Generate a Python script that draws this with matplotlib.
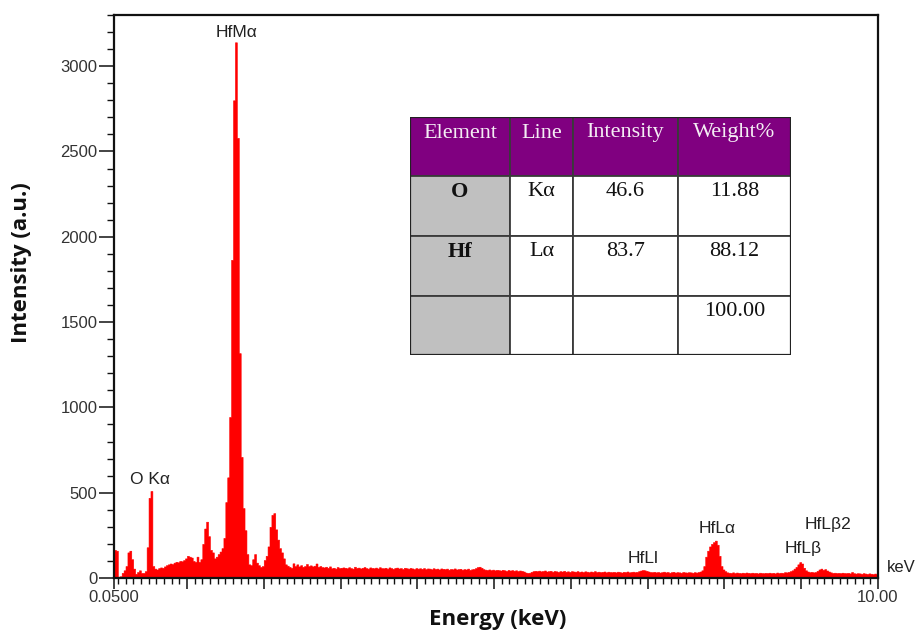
import numpy as np
import matplotlib
matplotlib.use('Agg')
import matplotlib.pyplot as plt
from matplotlib.patches import Rectangle
from matplotlib.ticker import FixedLocator, MultipleLocator

# EDS spectrum, counts per 0.025 keV channel starting at 0.05 keV
e_start = 0.05
e_step = 0.025
counts = [
    165, 160, 8, 10, 30, 45, 70, 150, 160, 110, 55, 25, 35, 45, 30, 30, 40, 180, 470, 510,
    70, 55, 50, 58, 62, 60, 68, 75, 80, 85, 82, 90, 95, 92, 100, 98, 105, 115, 130, 125,
    120, 100, 95, 125, 95, 110, 200, 290, 330, 245, 165, 150, 115, 125, 140, 155, 175, 235, 445, 590,
    944, 1865, 2800, 3140, 2580, 1318, 710, 410, 280, 140, 80, 75, 110, 140, 90, 75, 65, 70, 105, 130,
    185, 300, 370, 380, 285, 225, 175, 150, 115, 80, 72, 65, 60, 86, 70, 80, 68, 75, 66, 70,
    82, 70, 74, 68, 72, 85, 66, 70, 64, 62, 66, 60, 68, 57, 60, 55, 64, 58, 60, 62,
    60, 57, 63, 58, 55, 66, 59, 61, 56, 60, 64, 58, 55, 62, 59, 57, 61, 56, 63, 58,
    57, 60, 55, 62, 58, 54, 59, 61, 56, 58, 53, 60, 57, 55, 59, 56, 52, 58, 55, 57,
    54, 58, 52, 56, 55, 51, 57, 53, 55, 50, 56, 54, 52, 55, 49, 53, 51, 56, 50, 52,
    54, 49, 52, 50, 55, 48, 51, 53, 58, 64, 66, 60, 52, 49, 47, 50, 46, 49, 45, 48,
    46, 44, 48, 45, 42, 47, 44, 46, 43, 45, 41, 44, 42, 38, 32, 30, 31, 36, 40, 42,
    40, 43, 39, 41, 44, 38, 40, 42, 37, 41, 39, 36, 40, 38, 42, 37, 39, 36, 40, 38,
    37, 40, 36, 38, 35, 39, 37, 34, 38, 36, 40, 35, 37, 34, 36, 38, 33, 37, 35, 34,
    36, 33, 37, 35, 32, 36, 34, 38, 33, 35, 37, 34, 36, 40, 44, 47, 45, 42, 38, 35,
    34, 36, 33, 35, 32, 34, 37, 33, 35, 31, 34, 36, 32, 34, 33, 31, 35, 33, 32, 34,
    33, 31, 34, 32, 35, 38, 45, 70, 125, 160, 185, 200, 210, 219, 195, 130, 70, 50, 40, 33,
    31, 30, 33, 29, 32, 30, 28, 31, 29, 32, 30, 28, 31, 29, 30, 27, 31, 29, 28, 30,
    29, 31, 28, 30, 27, 32, 29, 31, 30, 34, 33, 36, 40, 45, 55, 65, 80, 93, 85, 60,
    45, 38, 34, 36, 33, 35, 42, 50, 55, 48, 52, 44, 38, 33, 30, 31, 29, 30, 28, 31,
    29, 28, 30, 27, 35, 28, 26, 28, 27, 25, 28, 26, 24, 27, 25, 23, 26, 22,
]

# peak annotations
peak_names = ['O K\u03b1', 'HfM\u03b1', 'HfLl', 'HfL\u03b1', 'HfL\u03b2', 'HfL\u03b22']
peak_energy = [0.52, 1.65, 6.94, 7.91, 9.02, 9.35]
peak_text_y = [575, 3200, 117, 293, 170, 311]

# quantification table
table_header = ['Element', 'Line', 'Intensity', 'Weight%']
table_rows = [
    ['O', 'K\u03b1', '46.6', '11.88'],
    ['Hf', 'L\u03b1', '83.7', '88.12'],
    ['', '', '', '100.00'],
]

W, H = 916, 632
fig = plt.figure(figsize=(W / 100, H / 100), dpi=100)
ax = fig.add_axes([114 / W, 1 - 578 / H, 764 / W, 563 / H])

# one filled step polygon so there are no seams between channels
edges = e_start + e_step * np.arange(len(counts) + 1)
ax.fill_between(edges, np.append(counts, counts[-1]), step='post',
                facecolor='#ff0000', edgecolor='#ff0000', linewidth=0.4)

ax.set_xlim(0.05, 10.0)
ax.set_ylim(0, 3300)

# ticks
ax.xaxis.set_major_locator(FixedLocator([0.05] + list(range(1, 11))))
ax.set_xticklabels(['0.0500'] + [''] * 9 + ['10.00'])
ax.xaxis.set_minor_locator(MultipleLocator(0.1))
ax.yaxis.set_major_locator(MultipleLocator(500))
ax.yaxis.set_minor_locator(MultipleLocator(100))
ax.tick_params(axis='x', which='major', direction='out', length=8, width=1.1, pad=1,
               labelsize=12, labelcolor='#333333', color='#111111')
ax.tick_params(axis='x', which='minor', direction='out', length=4.5, width=1.0, color='#111111')
ax.tick_params(axis='y', which='major', direction='out', length=11, width=1.1, pad=1,
               labelsize=12, labelcolor='#333333', color='#111111')
ax.tick_params(axis='y', which='minor', direction='out', length=5, width=1.0, color='#111111')
for lab in ax.get_xticklabels() + ax.get_yticklabels():
    lab.set_family('Liberation Sans')
for sp in ax.spines.values():
    sp.set_linewidth(1.6)
    sp.set_color('#111111')

# peak labels
for name, e, yv in zip(peak_names, peak_energy, peak_text_y):
    ax.text(e, yv, name, ha='center', va='center', fontsize=12.5,
            family='Liberation Sans', color='#222222')
ax.text(1.030, 0.0195, 'keV', transform=ax.transAxes, ha='center', va='center',
        fontsize=12, family='Liberation Sans', color='#222222', clip_on=False)

# axis titles
fig.text(22 / W, 1 - 263 / H, 'Intensity (a.u.)', rotation=90, ha='center', va='center',
         fontsize=16, fontweight='bold', family='Open Sans', color='#111111')
fig.text(498 / W, 1 - 620 / H, 'Energy (keV)', ha='center', va='center',
         fontsize=16, fontweight='bold', family='Open Sans', color='#111111')

# table drawn in its own axes, units in pixels
col_w = [100, 63, 105, 113]
row_h = [59, 60, 60, 59]
tx, ty = 410, 117
tab = fig.add_axes([tx / W, 1 - (ty + sum(row_h)) / H, sum(col_w) / W, sum(row_h) / H])
tab.set_xlim(0, sum(col_w))
tab.set_ylim(sum(row_h), 0)
tab.axis('off')

col_x = np.concatenate([[0], np.cumsum(col_w)])
row_y = np.concatenate([[0], np.cumsum(row_h)])
all_rows = [table_header] + table_rows
for r, row in enumerate(all_rows):
    for c, txt in enumerate(row):
        if r == 0:
            fc = '#800080'
        elif c == 0:
            fc = '#c0c0c0'
        else:
            fc = 'white'
        tab.add_patch(Rectangle((col_x[c], row_y[r]), col_w[c], row_h[r],
                                facecolor=fc, edgecolor='#3a3a3a', linewidth=1.3))
        if txt:
            tab.text(col_x[c] + col_w[c] / 2, row_y[r] + 16, txt,
                     ha='center', va='center', fontsize=16, family='Liberation Serif',
                     color='#f4eef4' if r == 0 else '#111111',
                     fontweight='bold' if (c == 0 and r > 0) else 'normal')
tab.add_patch(Rectangle((0, 0), sum(col_w), sum(row_h), facecolor='none',
                        edgecolor='#222222', linewidth=1.6))

fig.savefig('out.png', dpi=100)
